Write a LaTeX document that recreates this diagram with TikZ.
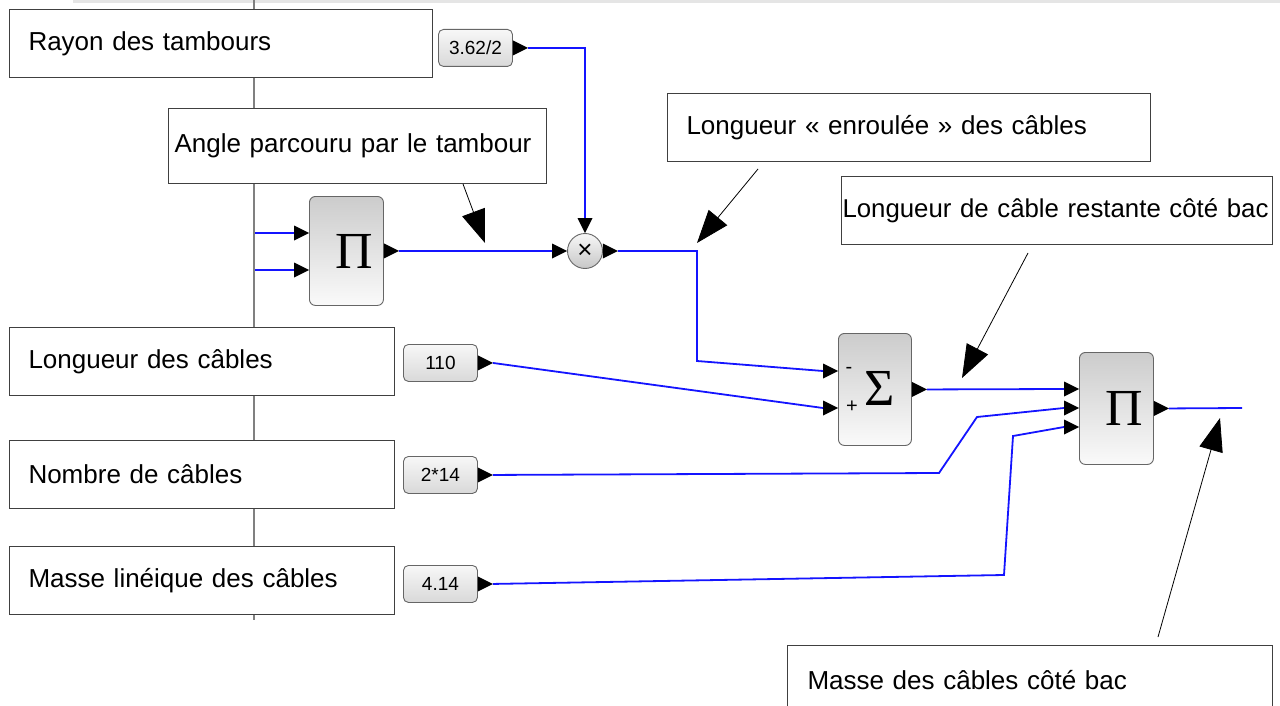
\documentclass[tikz,border=0pt]{standalone}
\usepackage{fontspec}
\setmainfont{Liberation Sans}
\newfontfamily\serifgr{Liberation Serif}
\usetikzlibrary{arrows.meta,calc}
\newcommand\portin[1]{\fill[black] ($(#1)+(-15,-7.5)$) -- (#1) -- ($(#1)+(-15,7.5)$) -- cycle;}
\newcommand\portout[1]{\fill[black] ($(#1)+(0,-7.5)$) -- ($(#1)+(15,0)$) -- ($(#1)+(0,7.5)$) -- cycle;}
\newcommand\portdown[1]{\fill[black] ($(#1)+(-7.5,-15)$) -- (#1) -- ($(#1)+(7.5,-15)$) -- cycle;}
\begin{document}
\begin{tikzpicture}[x=1pt,y=-1pt,
  tbox/.style={draw=black!75, line width=1pt, fill=white, anchor=north west, inner ysep=0pt, align=left, font=\fontsize{26}{30}\selectfont},
  blk/.style={draw=black!60, line width=0.9pt, rounded corners=6pt, top color=black!20, bottom color=black!2, anchor=north west, inner sep=0pt},
  cst/.style={draw=black!60, line width=0.9pt, rounded corners=5pt, top color=black!3, bottom color=black!15, anchor=north west, inner sep=0pt, minimum width=74pt, minimum height=37pt, font=\fontsize{19}{19}\selectfont},
  sym/.style={inner sep=0pt, font=\serifgr\fontsize{52}{52}\selectfont},
  sgn/.style={inner sep=0pt, font=\fontsize{20}{20}\selectfont},
  sig/.style={draw={rgb,255:red,20;green,20;blue,255}, line width=1.8pt},
  note/.style={black, line width=0.8pt, -{Triangle[length=33pt,width=24pt]}},
  bus/.style={draw=black!50, line width=1.4pt}
]
\useasboundingbox (0,0) rectangle (1280,706);
\fill[black!10] (73,0) rectangle (1280,3.5);

% bus line
\coordinate (bustop) at (254,0);
\coordinate (busbot) at (254,620);
\draw[bus] (bustop) -- (busbot);

% text boxes
\node[tbox, minimum height=68pt, text width=385pt, inner xsep=19pt] (rayon) at (9,9) {Rayon des tambours};
\node[tbox, minimum height=75pt, text width=366pt, inner xsep=6pt] (angle) at (168,108) {Angle parcouru par le tambour};
\node[tbox, minimum height=68pt, text width=347pt, inner xsep=19pt] (longueur) at (9,327) {Longueur des câbles};
\node[tbox, minimum height=68pt, text width=347pt, inner xsep=19pt] (nombre) at (9,440) {Nombre de câbles};
\node[tbox, minimum height=68pt, text width=347pt, inner xsep=19pt] (masselin) at (9,546) {Masse linéique des câbles};
\node[tbox, minimum height=68pt, text width=445pt, inner xsep=19pt] (enroulee) at (667,93) {Longueur « enroulée » des câbles};
\node[tbox, minimum height=68pt, text width=429pt, inner xsep=1pt, font=\fontsize{25.8}{30}\selectfont] (restante) at (841,176) {\mbox{Longueur de câble restante côté bac}};
\node[tbox, minimum height=70pt, text width=445pt, inner xsep=20pt] (massebac) at (787,645) {Masse des câbles côté bac};

% blocks
\node[blk, minimum width=74pt, minimum height=109pt] (pi1) at (309,196) {};
\node[sym] at ($(pi1.center)+(8,0.5)$) {Π};
\node[cst] (c362) at (438,29) {3.62/2};
\node[circle, draw=black!60, line width=0.9pt, top color=black!3, bottom color=black!22, minimum size=35pt, inner sep=0pt, font=\fontsize{26}{26}\selectfont] (mul) at (585,251) {×};
\node[blk, minimum width=73pt, minimum height=112pt] (sigma) at (838,333) {};
\node[sym] at ($(sigma.center)+(4.5,-1)$) {Σ};
\node[sgn] at (849,370) {-};
\node[sgn] at (852,407) {+};
\node[blk, minimum width=74pt, minimum height=112pt] (pi2) at (1079,352) {};
\node[sym] at ($(pi2.center)+(8,0)$) {Π};
\node[cst] (c110) at (403,344) {110};
\node[cst] (c214) at (403,456) {2*14};
\node[cst] (c414) at (403,565) {4.14};

% ports
\coordinate (pi1i1) at ($(pi1.north west)+(0,37)$);
\coordinate (pi1i2) at ($(pi1.north west)+(0,74)$);
\coordinate (sgi1) at ($(sigma.north west)+(0,38)$);
\coordinate (sgi2) at ($(sigma.north west)+(0,75)$);
\coordinate (pi2i1) at ($(pi2.north west)+(0,37)$);
\coordinate (pi2i2) at ($(pi2.north west)+(0,56)$);
\coordinate (pi2i3) at ($(pi2.north west)+(0,75)$);
\portin{pi1i1} \portin{pi1i2}
\portout{pi1.east}
\portin{mul.west} \portdown{mul.north} \portout{mul.east}
\portout{c362.east}
\portin{sgi1} \portin{sgi2} \portout{sigma.east}
\portin{pi2i1} \portin{pi2i2} \portin{pi2i3} \portout{pi2.east}
\portout{c110.east} \portout{c214.east} \portout{c414.east}

% signal connectors
\coordinate (b1) at (255,233);
\coordinate (b2) at (255,270);
\coordinate (outend) at (1242,408);
\draw[sig] (b1) -- ($(pi1i1)+(-15,0)$);
\draw[sig] (b2) -- ($(pi1i2)+(-15,0)$);
\draw[sig] ($(pi1.east)+(15,0)$) -- ($(mul.west)+(-15,0)$);
\draw[sig] ($(c362.east)+(15,0)$) -| ($(mul.north)+(0,-15)$);
\draw[sig] ($(mul.east)+(15,0)$) -- (697,251) -- (697,361) -- ($(sgi1)+(-15,0)$);
\draw[sig] ($(c110.east)+(15,0)$) -- ($(sgi2)+(-15,0)$);
\draw[sig] ($(sigma.east)+(15,0)$) -- ($(pi2i1)+(-15,0)$);
\draw[sig] ($(c214.east)+(15,0)$) -- (939,473) -- (977,417) -- ($(pi2i2)+(-15,0)$);
\draw[sig] ($(c414.east)+(15,0)$) -- (1004,575) -- (1013,436) -- ($(pi2i3)+(-15,0)$);
\draw[sig] ($(pi2.east)+(15,0)$) -- (outend);

% callouts
\draw[note] ($(angle.south west)+(295,0)$) -- (485,243);
\draw[note] ($(enroulee.south west)+(91,7)$) -- (697,243);
\draw[note] ($(restante.south west)+(187,8)$) -- (962,378);
\draw[note] ($(massebac.north west)+(371,-8)$) -- (1220,418);
\end{tikzpicture}
\end{document}
